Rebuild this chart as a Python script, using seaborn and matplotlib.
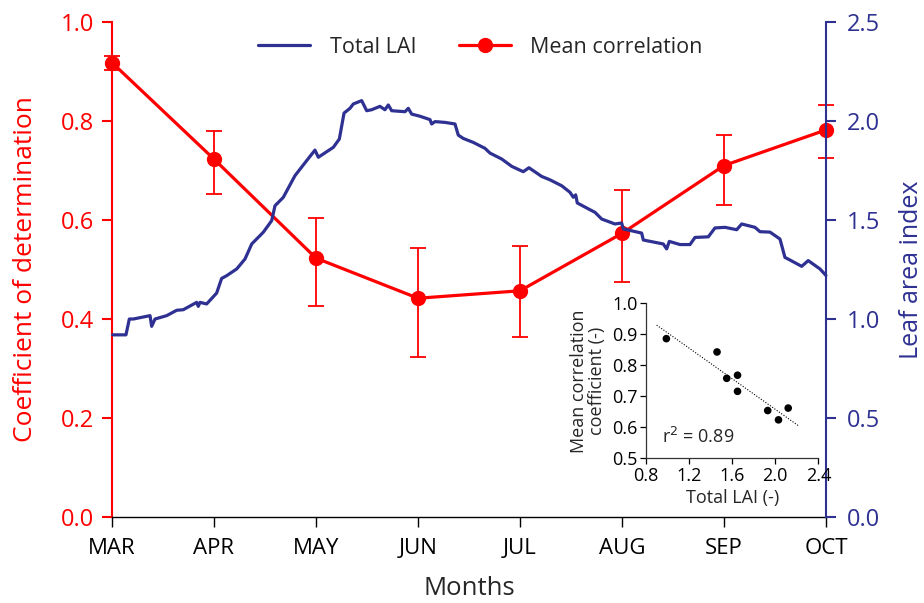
import numpy as np
import pandas as pd
import matplotlib
matplotlib.use("Agg")
import matplotlib.pyplot as plt
import seaborn as sns

# ---------------- data ----------------
months = ["MAR", "APR", "MAY", "JUN", "JUL", "AUG", "SEP", "OCT"]
corr_mean = [0.918, 0.723, 0.523, 0.442, 0.457, 0.573, 0.710, 0.782]
corr_err_hi = [0.014, 0.057, 0.082, 0.101, 0.091, 0.088, 0.062, 0.050]
corr_err_lo = [0.014, 0.071, 0.096, 0.118, 0.093, 0.098, 0.080, 0.057]

# LAI trace: position in months since 1 March, value
lai_t = [0.007, 0.137, 0.170, 0.209, 0.373, 0.389, 0.422, 0.536, 0.634, 0.699,
         0.830, 0.846, 0.863, 0.928, 1.026, 1.075, 1.125, 1.223, 1.304, 1.370,
         1.483, 1.566, 1.598, 1.679, 1.794, 1.909, 1.990, 2.023, 2.170, 2.229,
         2.275, 2.333, 2.366, 2.448, 2.497, 2.546, 2.627, 2.676, 2.709, 2.742,
         2.873, 2.905, 2.938, 3.020, 3.118, 3.134, 3.167, 3.265, 3.363, 3.395,
         3.444, 3.542, 3.657, 3.706, 3.821, 3.919, 4.032, 4.088, 4.213, 4.294,
         4.409, 4.490, 4.523, 4.546, 4.562, 4.686, 4.735, 4.801, 4.931, 4.997,
         5.013, 5.193, 5.209, 5.405, 5.438, 5.464, 5.569, 5.667, 5.716, 5.846,
         5.912, 6.010, 6.125, 6.174, 6.304, 6.353, 6.451, 6.549, 6.598, 6.647,
         6.762, 6.826, 6.941, 7.000]
lai_v = [0.92, 0.92, 1.00, 1.00, 1.017, 0.963, 1.00, 1.017, 1.044, 1.047,
         1.084, 1.064, 1.084, 1.076, 1.131, 1.205, 1.219, 1.253, 1.303, 1.379,
         1.438, 1.497, 1.572, 1.614, 1.724, 1.800, 1.853, 1.817, 1.867, 1.909,
         2.040, 2.064, 2.086, 2.103, 2.052, 2.057, 2.074, 2.057, 2.081, 2.052,
         2.047, 2.064, 2.035, 2.024, 2.007, 1.985, 1.997, 1.993, 1.985, 1.929,
         1.912, 1.892, 1.862, 1.838, 1.808, 1.771, 1.744, 1.764, 1.720, 1.703,
         1.673, 1.640, 1.615, 1.627, 1.586, 1.552, 1.539, 1.505, 1.480, 1.485,
         1.455, 1.434, 1.399, 1.379, 1.354, 1.392, 1.376, 1.376, 1.412, 1.415,
         1.460, 1.463, 1.451, 1.480, 1.463, 1.441, 1.439, 1.404, 1.311, 1.298,
         1.266, 1.295, 1.253, 1.220]

# inset scatter
inset_lai = [0.99, 1.46, 1.55, 1.65, 1.65, 1.93, 2.03, 2.12]
inset_r = [0.886, 0.843, 0.758, 0.768, 0.716, 0.654, 0.624, 0.662]
fit_x = [0.9, 2.22]
fit_slope = -0.247
fit_intercept = 1.152
r2_text = "r$^2$ = 0.89"

RED = "#FF0000"
NAVY = "#2E3192"

sns.set_style("ticks")
plt.rcParams["font.family"] = ["Open Sans", "DejaVu Sans"]

df_corr = pd.DataFrame({"m": np.arange(len(months)), "corr": corr_mean})
df_lai = pd.DataFrame({"t": lai_t, "lai": lai_v})
df_in = pd.DataFrame({"lai": inset_lai, "r": inset_r})
df_fit = pd.DataFrame({"x": fit_x, "y": [fit_intercept + fit_slope * v for v in fit_x]})

fig = plt.figure(figsize=(9.24, 6.03), dpi=100)
ax = fig.add_axes([0.1212, 0.1426, 0.7727, 0.8209])
ax2 = ax.twinx()

# mean correlation (left axis)
ax.errorbar(df_corr["m"], df_corr["corr"], yerr=[corr_err_lo, corr_err_hi],
            fmt="none", ecolor=RED, elinewidth=1.3, capsize=6, capthick=1.3,
            clip_on=False, zorder=3)
sns.lineplot(data=df_corr, x="m", y="corr", ax=ax, color=RED, lw=2.3,
             marker="o", markersize=11, markeredgewidth=0, clip_on=False,
             label="Mean correlation", legend=False, zorder=4)

# LAI (right axis)
sns.lineplot(data=df_lai, x="t", y="lai", ax=ax2, color=NAVY, lw=2.3,
             label="Total LAI", legend=False, sort=False, clip_on=False)

ax.set_xlim(0, 7)
ax.set_ylim(0, 1.0)
ax2.set_ylim(0, 2.5)
ax.set_xticks(range(len(months)))
ax.set_xticklabels(months)
ax.set_yticks(np.arange(0, 1.01, 0.2))
ax.set_yticklabels([f"{v:.1f}" for v in np.arange(0, 1.01, 0.2)])
ax2.set_yticks(np.arange(0, 2.51, 0.5))
ax2.set_yticklabels([f"{v:.1f}" for v in np.arange(0, 2.51, 0.5)])

for s in ["top", "right"]:
    ax.spines[s].set_visible(False)
for s in ["top", "left", "bottom"]:
    ax2.spines[s].set_visible(False)
ax.spines["left"].set_color(RED)
ax.spines["left"].set_linewidth(1.5)
ax.spines["bottom"].set_color("black")
ax.spines["bottom"].set_linewidth(1.0)
ax2.spines["right"].set_color(NAVY)
ax2.spines["right"].set_linewidth(1.5)

ax.tick_params(axis="y", colors=RED, labelsize=17, direction="out", length=7, width=1.5, pad=6)
ax.tick_params(axis="x", colors="black", labelsize=16, direction="out", length=7, width=1.0, pad=8)
ax2.tick_params(axis="y", colors=NAVY, labelsize=17, direction="out", length=7, width=1.5, pad=8)

ax.set_xlabel("Months", fontsize=18.5, labelpad=12)
ax.set_ylabel("Coefficient of determination", fontsize=19, color=RED)
ax.yaxis.set_label_coords(-0.104, 0.5)
ax2.set_ylabel("Leaf area index", fontsize=18, color=NAVY)
ax2.yaxis.set_label_coords(1.102, 0.5)

h2, l2 = ax2.get_legend_handles_labels()
h1, l1 = ax.get_legend_handles_labels()
fig.legend(h2 + h1, l2 + l1, loc="center", bbox_to_anchor=(0.52, 0.922), ncol=2,
           frameon=False, fontsize=15.5, handlelength=2.4, columnspacing=2.0,
           handletextpad=0.9)

# inset
axi = fig.add_axes([0.699, 0.240, 0.1867, 0.257])
axi.set_facecolor("none")
sns.lineplot(data=df_fit, x="x", y="y", ax=axi, color="black", lw=0.8,
             linestyle=(0, (1, 1.5)))
sns.scatterplot(data=df_in, x="lai", y="r", ax=axi, color="black", s=30,
                edgecolor="none", zorder=3)
axi.set_xlim(0.8, 2.4)
axi.set_ylim(0.5, 1.0)
axi.set_xticks(np.arange(0.8, 2.41, 0.4))
axi.set_xticklabels([f"{v:.1f}" for v in np.arange(0.8, 2.41, 0.4)])
axi.set_yticks(np.arange(0.5, 1.01, 0.1))
axi.set_yticklabels([f"{v:.1f}" for v in np.arange(0.5, 1.01, 0.1)])
for s in ["top", "right"]:
    axi.spines[s].set_visible(False)
for s in ["left", "bottom"]:
    axi.spines[s].set_color("#333333")
    axi.spines[s].set_linewidth(0.9)
axi.tick_params(labelsize=13, direction="out", length=4, width=0.9, pad=2, colors="black")
axi.set_xlabel("Total LAI (-)", fontsize=13, labelpad=3)
axi.set_ylabel("Mean correlation\ncoefficient (-)", fontsize=13, labelpad=4, linespacing=1.05)
axi.text(0.95, 0.57, r2_text, fontsize=13, ha="left", va="center")

fig.savefig("out.png", dpi=100)
